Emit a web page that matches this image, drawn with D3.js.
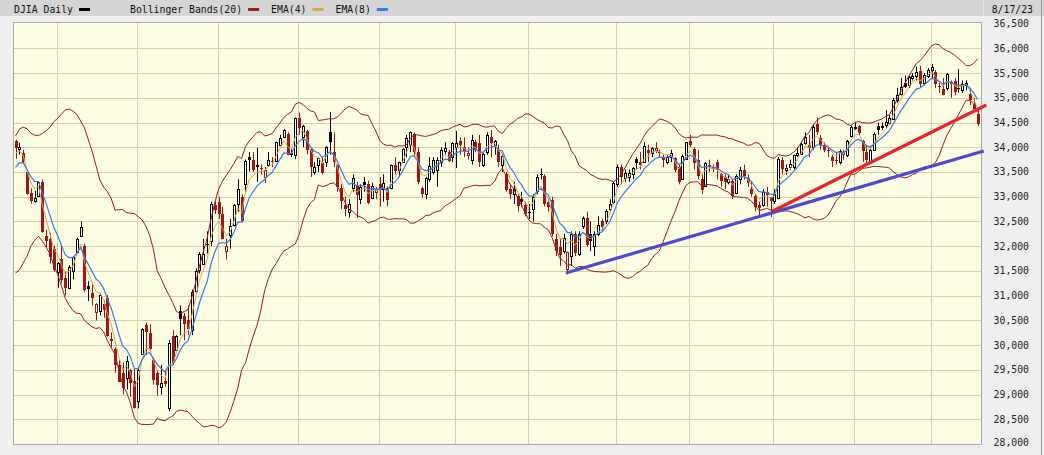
<!DOCTYPE html>
<html><head><meta charset="utf-8">
<script src="https://cdn.jsdelivr.net/npm/d3@7"></script>
<style>html,body{margin:0;padding:0;background:#efefef;}svg{display:block;}</style>
</head><body>
<svg id="chart" width="1044" height="455"></svg>
<script>
// ---- DATA (DJIA daily, 8/17/22 - 8/17/23) ----
const title = "DJIA Daily";
const lastDate = "8/17/23";
const monthNames = ["Aug","Sep","Oct","Nov","Dec","Jan","Feb","Mar","Apr","May","Jun","Jul","Aug"];
const monthLengths = [11,21,21,21,21,20,19,23,19,22,21,20,13];
const warmupCloses = [31875,32037,31900,31990,31762,32198,32529,32845,32798,32397,32813,32727,32803,32832,32775,33309,33336,33761,33913,34152];
const opens = [
34120,33960,33890,33500,33080,32910,33010,33290,32200,32150,31950,
31480,31750,31360,31150,31500,31880,32200,32000,31200,31050,30660,30680,30840,30950,30130,29930,29600,29430,29330,29500,29270,
28860,29820,30400,30250,29700,29430,29150,29270,28720,30180,29900,30680,30580,30500,30300,31100,31520,31640,32050,32100,32840,
32900,32650,31900,32230,32420,32860,33000,33250,33800,33750,33650,33580,33400,33650,33720,33720,34050,34200,34260,33880,33850,
34600,34200,34320,33950,33500,33650,33680,33710,34300,33900,33650,33170,32840,32700,33170,33210,32950,33300,33250,32970,33100,
33250,33150,33170,33170,33650,33550,33710,34010,34050,34260,33910,33170,33050,33350,33500,33550,33710,33920,33900,33810,
34010,34120,34000,33850,33750,34100,34080,33650,33900,34200,34050,33950,33650,33450,33150,33050,33010,32950,32840,
32700,32760,33110,33450,33410,32900,32940,32150,31990,31900,31530,31800,32240,31850,32400,32560,32240,32000,32240,32500,32500,32750,32900,
33250,33600,33380,33400,33450,33770,33700,33710,33950,33880,33950,33900,33770,33700,33800,33790,33610,33350,33770,
34120,33970,33750,33350,33210,33650,33600,33710,33450,33400,33300,33310,33070,33350,33550,33370,33150,33010,32840,32840,33100,33000,
32910,32970,33750,33550,33600,33610,33850,33870,34080,34050,34010,34460,34180,34050,33950,33810,33750,33710,33900,33850,34220,
34400,34420,34120,33910,33700,33950,34420,34420,34450,34500,34580,34960,35070,35300,35250,35400,35450,35550,35300,35450,
35570,35530,35230,35170,35190,35300,35330,35200,35150,35250,35070,34880,34680];
const highs = [
34150,34090,33950,33550,33170,33120,33300,33350,32330,32270,32010,
31680,32040,31480,31620,31800,32170,32500,32050,31290,31260,30850,31050,30900,31010,30260,29950,29700,29650,29780,29520,29530,
29560,30340,30450,30420,29750,29480,29600,29480,30100,30300,30200,30800,30650,30800,31120,31550,31880,32150,32300,32900,32900,
33000,32800,32150,32550,32850,33350,33050,33750,33900,33900,33990,33650,33600,33900,33800,34110,34250,34370,34300,33980,34600,
34700,34450,34350,33980,33700,33790,33800,34020,34710,34300,33650,33250,33000,32950,33450,33300,33250,33400,33320,33280,33200,
33400,33450,33200,33650,33800,33710,33980,34250,34320,34300,34000,33200,33400,33800,33800,33800,34000,34100,33950,34100,
34330,34200,34200,34000,34250,34150,34250,33900,34300,34350,34150,34050,33850,33500,33250,33300,33050,33100,32900,
32850,33050,33450,33570,33450,32950,33000,32250,32150,32250,31890,32300,32300,32300,32600,32700,32500,32300,32600,32550,32750,32950,33300,
33650,33650,33550,33550,33600,33800,33900,34100,34050,34000,34100,33950,33850,33850,33950,33800,33650,33850,34100,
34250,34000,33950,33450,33700,33750,33650,33750,33480,33450,33450,33350,33450,33600,33650,33450,33300,33050,32900,33150,33200,33000,
33150,33800,33800,33650,33750,33850,34000,34100,34300,34250,34450,34600,34250,34100,34000,33850,33900,33950,33950,34150,34450,
34500,34450,34150,34050,34000,34300,34500,34500,34750,34650,35000,35200,35400,35450,35450,35500,35630,35650,35500,35600,
35680,35560,35300,35400,35500,35350,35400,35580,35350,35350,35200,35000,34800];
const lows = [
33770,33850,33660,33040,32860,32880,32990,32270,31970,31650,31480,
31160,31250,31000,31130,31330,31870,32190,31070,30890,30800,30500,30600,30550,30170,29950,29440,29250,29000,29100,28950,28715,
28720,29800,29800,29900,29200,28980,29000,29160,28660,29600,29880,30200,30100,30200,30200,31050,31450,31620,31850,32000,32650,
32550,32140,31730,31950,32400,32700,32480,33100,33510,33500,33300,33450,33280,33600,33600,33700,34040,34190,33840,33800,33760,
34250,34000,33860,33400,33450,33500,33450,33600,33850,33600,33100,32750,32600,32580,33100,32570,32850,33100,32850,32950,32950,
32800,32900,32810,33150,33450,33400,33700,33800,33900,33850,33250,32980,32950,33300,33450,33200,33600,33850,33700,33700,
33580,33850,33800,33750,33650,33900,33600,33600,33850,33800,33850,33600,33500,33100,32950,32850,32700,32800,32600,
32550,32500,33050,33350,32800,32700,32200,31800,31600,31850,31430,31600,31800,31800,32350,31990,31900,31800,32200,32300,32450,32700,32850,
33200,33250,33300,33300,33350,33550,33550,33700,33700,33800,33880,33800,33600,33650,33700,33500,33250,33350,33750,
34000,33550,33350,33050,33200,33500,33500,33350,33200,33150,33250,32950,33050,33250,33350,33200,33000,32700,32600,32800,32800,32590,
32850,32950,33450,33450,33550,33550,33800,33850,34050,33800,33950,34250,33950,33900,33800,33600,33650,33650,33750,33800,34200,
34350,34250,33700,33670,33670,33950,34250,34350,34380,34450,34550,34900,35050,35200,35200,35350,35350,35200,35250,35400,
35400,35200,35100,35050,35150,35000,35050,35100,35100,35150,34850,34750,34430];
const closes = [
33980,33999,33706,33063,32909,32969,33291,32283,32098,31790,31510,
31656,31318,31145,31581,31774,32151,32381,31105,31135,30961,30822,31019,30706,30184,30077,29590,29260,29135,29684,29225,28726,
29491,30317,30274,29927,29297,29203,29240,29211,30039,29635,30186,30524,30424,30334,31083,31500,31837,31839,32034,32861,32733,
32653,32148,32002,32403,32827,33161,32514,33716,33748,33537,33593,33554,33547,33746,33700,34098,34195,34347,33850,33853,34590,
34395,34430,33947,33597,33598,33781,33476,34005,34109,33700,33203,32920,32757,32850,33377,33027,33204,33242,32876,33221,33147,
33136,33270,32930,33631,33518,33704,33973,34190,34303,33911,33297,33045,33375,33630,33734,33744,33950,33978,33717,34086,
34093,34054,33926,33891,34156,33949,33699,33869,34246,34089,34128,33697,33827,33130,33045,33154,32817,32889,32657,
32662,33004,33391,33431,32856,32798,32255,31910,31820,32155,31875,32247,31862,32245,32560,32030,32106,32238,32433,32395,32718,32860,33274,
33601,33403,33483,33486,33587,33685,33647,34030,33887,33988,33977,33897,33787,33809,33876,33531,33302,33827,34098,
34051,33684,33415,33128,33675,33619,33562,33531,33310,33301,33349,33013,33421,33536,33427,33287,33056,32800,32765,33093,33043,32908,
33061,33763,33563,33573,33665,33834,33877,34067,34212,33979,34408,34299,34054,33952,33947,33727,33714,33927,33853,34122,34408,
34418,34288,33922,33735,33944,34262,34347,34395,34509,34585,34952,35061,35225,35228,35411,35438,35520,35282,35459,35560,
35630,35283,35216,35066,35473,35314,35124,35176,35281,35308,34946,34766,34474];
const yTicks = [28000,28500,29000,29500,30000,30500,31000,31500,32000,32500,33000,33500,34000,34500,35000,35500,36000,36500];
// hand-drawn trendlines (day index, price)
const redTrendIdx = [197.6, 253.3];
const redTrendVal = [32710, 34855];
const blueTrendIdx = [143.6, 252.6];
const blueTrendVal = [31457, 33923];
const legendItems = [
  {label:"DJIA Daily", color:"#000000"},
  {label:"Bollinger Bands(20)", color:"#9a1c1c"},
  {label:"EMA(4)", color:"#d6a650"},
  {label:"EMA(8)", color:"#2f7fe6"}
];

// ---- INDICATORS ----
const all = warmupCloses.concat(closes);
const W = warmupCloses.length;
function ema(arr, n){ const k = 2/(n+1); let e = arr[0]; return arr.map((v,i)=> i===0 ? e : (e = v*k + e*(1-k))); }
const ema4 = ema(all,4).slice(W), ema8 = ema(all,8).slice(W);
const bbUp = [], bbLo = [];
for (let i=0;i<closes.length;i++){
  const w = all.slice(W+i-19, W+i+1);
  const m = d3.mean(w);
  const sd = Math.sqrt(d3.mean(w, v => (v-m)*(v-m)));
  bbUp.push(m+2*sd); bbLo.push(m-2*sd);
}

// ---- LAYOUT ----
const svg = d3.select("#chart");
const FONT = "'DejaVu Sans Mono', monospace";
const plot = {l:13.5, t:22.5, r:981.5, b:444.5};
const x = d3.scaleLinear().domain([0, closes.length-1]).range([15.5, 977.5]);
const y = d3.scaleLinear().domain([28000, 36500]).range([444, 23.6]);

// backgrounds
svg.append("rect").attr("x",0).attr("y",0).attr("width",1044).attr("height",455).attr("fill","#efefef");
svg.append("rect").attr("x",0).attr("y",0).attr("width",1044).attr("height",16).attr("fill","#d5d5d5");
svg.append("line").attr("x1",983.5).attr("x2",983.5).attr("y1",0).attr("y2",16).attr("stroke","#e4e4e4");
svg.append("line").attr("x1",1041.5).attr("x2",1041.5).attr("y1",0).attr("y2",455).attr("stroke","#9c9c9c");

// header legend
let lx = 14;
legendItems.forEach((it, k) => {
  const t = svg.append("text").attr("x", lx).attr("y", 12.5).attr("font-family",FONT).attr("font-size",9.8)
    .attr("fill","#111").text(it.label);
  const w = it.label.length*5.9;
  svg.append("rect").attr("x", lx + w + 6).attr("y", 8).attr("width", 11).attr("height", 3).attr("fill", it.color);
  lx = lx + w + (k===0 ? 57 : 29);
});
svg.append("text").attr("x",1033).attr("y",12.5).attr("text-anchor","end").attr("font-family",FONT)
  .attr("font-size",9.8).attr("fill","#111").text(lastDate);

// plot area
svg.append("rect").attr("x",plot.l).attr("y",plot.t).attr("width",plot.r-plot.l).attr("height",plot.b-plot.t)
  .attr("fill","#fdfde3").attr("stroke","#a9a9a9");
svg.append("defs").append("clipPath").attr("id","clip").append("rect")
  .attr("x",plot.l).attr("y",plot.t).attr("width",plot.r-plot.l).attr("height",plot.b-plot.t);

const grid = svg.append("g").attr("stroke","#d4d1a6").attr("stroke-width",1);
yTicks.filter(v => v>28000 && v<36500).forEach(v => {
  const yy = Math.round(y(v))+0.5;
  grid.append("line").attr("x1",plot.l+0.5).attr("x2",plot.r-0.5).attr("y1",yy).attr("y2",yy);
});
let cum = 0;
monthLengths.forEach((n, k) => {
  if (k>0){ const xx = Math.round(x(cum))-0.5;
    grid.append("line").attr("x1",xx).attr("x2",xx).attr("y1",plot.t+0.5).attr("y2",plot.b-0.5); }
  cum += n;
});

// y axis labels
yTicks.forEach(v => {
  svg.append("text").attr("x",1029).attr("y", Math.min(y(v)+3.5, 446)).attr("text-anchor","end")
    .attr("font-family",FONT).attr("font-size",9.8).attr("fill","#222").text(d3.format(",")(v));
});

const g = svg.append("g").attr("clip-path","url(#clip)");

// candles
const RED = "#a31515";
closes.forEach((c, i) => {
  const o = opens[i], h = Math.max(highs[i], o, c), l = Math.min(lows[i], o, c);
  const prev = i>0 ? closes[i-1] : warmupCloses[W-1];
  const col = c < prev ? RED : "#000";
  const p = Math.round(x(i));
  g.append("line").attr("x1",p+0.5).attr("x2",p+0.5).attr("y1",y(h)).attr("y2",y(l)).attr("stroke",col).attr("stroke-width",1);
  const top = Math.round(y(Math.max(o,c))), bot = Math.round(y(Math.min(o,c)));
  if (c < o) {
    g.append("rect").attr("x",p-1).attr("y",top).attr("width",3).attr("height",Math.max(1,bot-top)).attr("fill",col);
  } else {
    g.append("rect").attr("x",p-0.5).attr("y",top+0.5).attr("width",2).attr("height",Math.max(1,bot-top))
      .attr("fill","#ffffff").attr("stroke",col).attr("stroke-width",1);
  }
});

// indicator lines
const line = d3.line().x((d,i)=>x(i)).y(d=>y(d));
g.append("path").datum(bbUp).attr("d",line).attr("fill","none").attr("stroke","#9a1c1c").attr("stroke-width",1);
g.append("path").datum(bbLo).attr("d",line).attr("fill","none").attr("stroke","#9a1c1c").attr("stroke-width",1);
g.append("path").datum(ema4).attr("d",line).attr("fill","none").attr("stroke","#d6a650").attr("stroke-width",1);
g.append("path").datum(ema8).attr("d",line).attr("fill","none").attr("stroke","#2f7fe6").attr("stroke-width",1.2);

// trendlines
const tl = d3.line().x(d=>x(d[0])).y(d=>y(d[1]));
svg.append("path").datum(blueTrendIdx.map((v,k)=>[v,blueTrendVal[k]])).attr("d",tl)
  .attr("stroke","#4a4ad2").attr("stroke-width",3.2).attr("fill","none");
svg.append("path").datum(redTrendIdx.map((v,k)=>[v,redTrendVal[k]])).attr("d",tl)
  .attr("stroke","#e4262b").attr("stroke-width",3.2).attr("fill","none");
</script>
</body></html>
